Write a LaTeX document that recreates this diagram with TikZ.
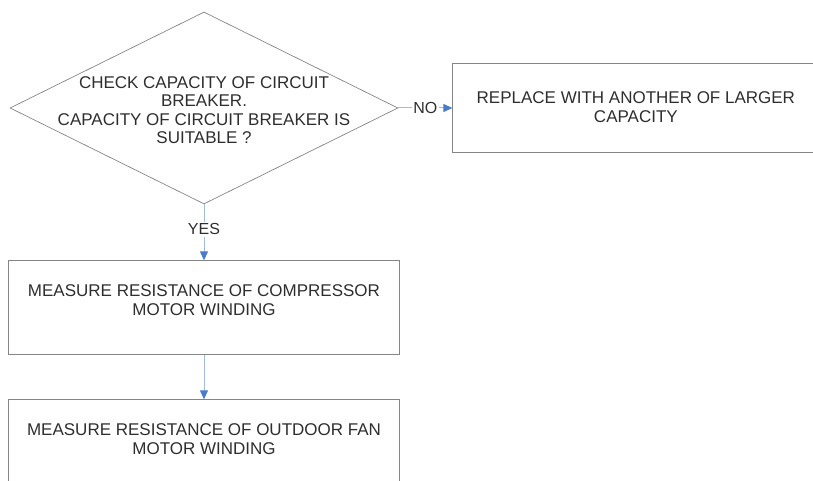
\documentclass[tikz,border=0pt]{standalone}
\usepackage{fontspec}
\setmainfont{Liberation Sans}
\usetikzlibrary{shapes.geometric,arrows.meta,positioning}
\definecolor{edgegray}{HTML}{858585}
\definecolor{linkblue}{HTML}{A3BBE3}
\definecolor{tipblue}{HTML}{4A7BC8}
\definecolor{textgray}{HTML}{2E2E2E}
\begin{document}
\begin{tikzpicture}[x=1pt, y=1pt,
    every node/.style={font=\fontsize{17}{18.5}\selectfont, text=textgray},
    decision/.style={diamond, draw=edgegray, line width=0.7pt, minimum width=388pt, minimum height=192pt, inner sep=0pt},
    stepbox/.style={rectangle, draw=edgegray, line width=1pt, minimum width=391pt, minimum height=94pt, align=center, text depth=16pt},
    link/.style={draw=linkblue, line width=1pt, -{Triangle[length=9pt, width=8pt, color=tipblue]}},
    answer/.style={fill=white, inner sep=1.5pt, font=\fontsize{16}{18}\selectfont}]
  \useasboundingbox (0,0) rectangle (813,481);
  \node[decision] (check) at (204,373) {};
  \node[align=center, yshift=-2pt] (checktext) at (check.center) {CHECK CAPACITY OF CIRCUIT\\BREAKER.\\CAPACITY OF CIRCUIT BREAKER IS\\SUITABLE ?};
  \node[stepbox, minimum width=366pt, minimum height=89pt, text depth=2pt, right=54pt of check] (replace) {REPLACE WITH ANOTHER OF LARGER\\CAPACITY};
  \node[stepbox, below=56pt of check] (compressor) {MEASURE RESISTANCE OF COMPRESSOR\\MOTOR WINDING};
  \node[stepbox, below=44pt of compressor] (fan) {MEASURE RESISTANCE OF OUTDOOR FAN\\MOTOR WINDING};
  % connectors
  \draw[link] (check) -- node[answer] {NO} (replace);
  \draw[link] (check) -- node[answer, yshift=3pt] {YES} (compressor);
  \draw[link] (compressor) -- (fan);
\end{tikzpicture}
\end{document}
